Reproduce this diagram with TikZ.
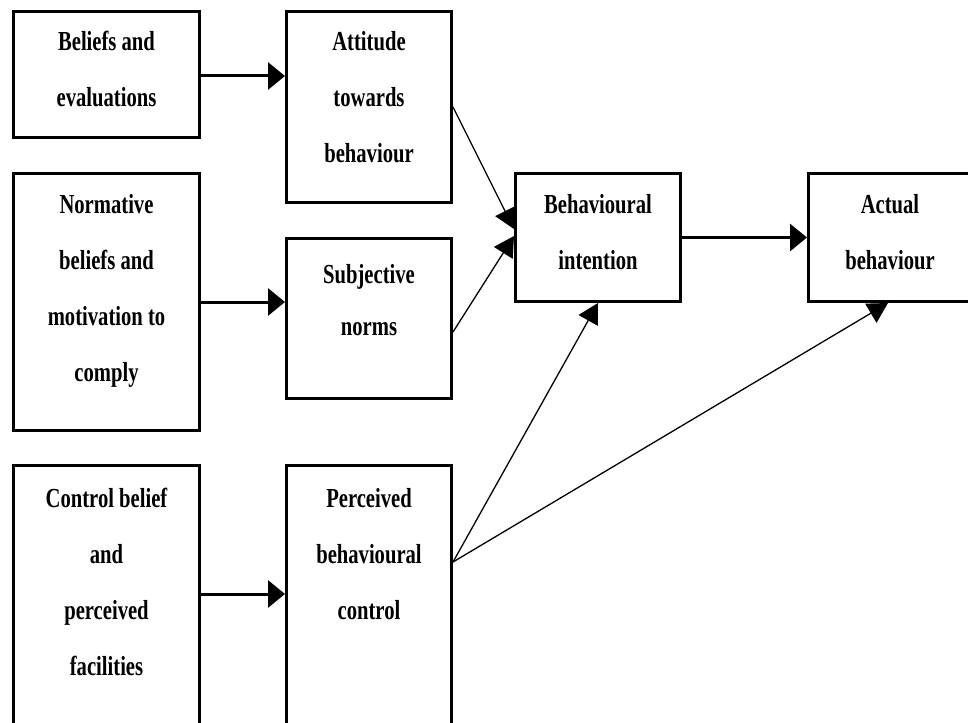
\documentclass[tikz,border=0pt]{standalone}
\usepackage{fontspec}
\newfontfamily\boxfont[FakeStretch=0.75]{Liberation Serif}
\usetikzlibrary{arrows.meta,calc}
\begin{document}
\begin{tikzpicture}[x=1pt,y=-1pt,
  box/.style={draw=black, line width=2.6pt, inner sep=0pt},
  lbl/.style={anchor=north, inner sep=0pt, align=center,
    font=\boxfont\bfseries\fontsize{27.5}{56}\selectfont},
  bigarrow/.style={line width=3pt, -{Triangle[length=17pt,width=27pt]}},
  thinarrow/.style={line width=1.3pt, -{Triangle[length=20pt,width=22pt]}}]
\fill[white] (0,0) rectangle (968,722);
\useasboundingbox (0,0) rectangle (968,722);
% boxes
\node[box, minimum width=186.4pt, minimum height=126.4pt] (A) at (106.5,74.5) {};
\node[box, minimum width=165.4pt, minimum height=191.4pt] (B) at (369,107) {};
\node[box, minimum width=186.4pt, minimum height=257.4pt] (C) at (106.5,302) {};
\node[box, minimum width=165.4pt, minimum height=160.4pt] (D) at (369,318.5) {};
\node[box, minimum width=165.4pt, minimum height=128.4pt] (E) at (598,237.5) {};
\node[box, minimum width=163.4pt, minimum height=128.4pt] (F) at (890,237.5) {};
\node[box, minimum width=186.4pt, minimum height=259.4pt] (G) at (106.5,595) {};
\node[box, minimum width=165.4pt, minimum height=259.4pt] (H) at (369,595) {};
% labels
\node[lbl] (tA) at (106.5,30) {\rule{0pt}{20pt}Beliefs and\\evaluations};
\node[lbl] (tB) at (369,30) {\rule{0pt}{20pt}Attitude\\towards\\behaviour};
\node[lbl] (tC) at (106.5,193) {\rule{0pt}{20pt}Normative\\beliefs and\\motivation to\\comply};
\node[lbl, font=\boxfont\bfseries\fontsize{27.5}{52}\selectfont] (tD) at (369,263) {\rule{0pt}{20pt}Subjective\\norms};
\node[lbl] (tE) at (598,193) {\rule{0pt}{20pt}Behavioural\\intention};
\node[lbl] (tF) at (890,193) {\rule{0pt}{20pt}Actual\\behaviour};
\node[lbl] (tG) at (106.5,487) {\rule{0pt}{20pt}Control belief\\and\\perceived\\facilities};
\node[lbl] (tH) at (369,487) {\rule{0pt}{20pt}Perceived\\behavioural\\control};
% connectors
\draw[bigarrow] ([yshift=-1.5pt]A.east) -- ([yshift=-1.5pt]A.east -| B.west);
\draw[bigarrow] (C.east) -- (C.east -| D.west);
\draw[bigarrow] ([yshift=1pt]G.east) -- ([yshift=1pt]H.west);
\draw[bigarrow] (E.east) -- (F.west);
\draw[thinarrow] (B.east) -- ([yshift=8.5pt]E.west);
\draw[thinarrow] ([yshift=-13.5pt]D.east) -- ([yshift=1.5pt]E.west);
\coordinate (hp) at ([yshift=33pt]H.east);
\draw[thinarrow] (hp) -- (E.south);
\draw[thinarrow] (hp) -- ([xshift=-2pt]F.south);
\end{tikzpicture}
\end{document}
